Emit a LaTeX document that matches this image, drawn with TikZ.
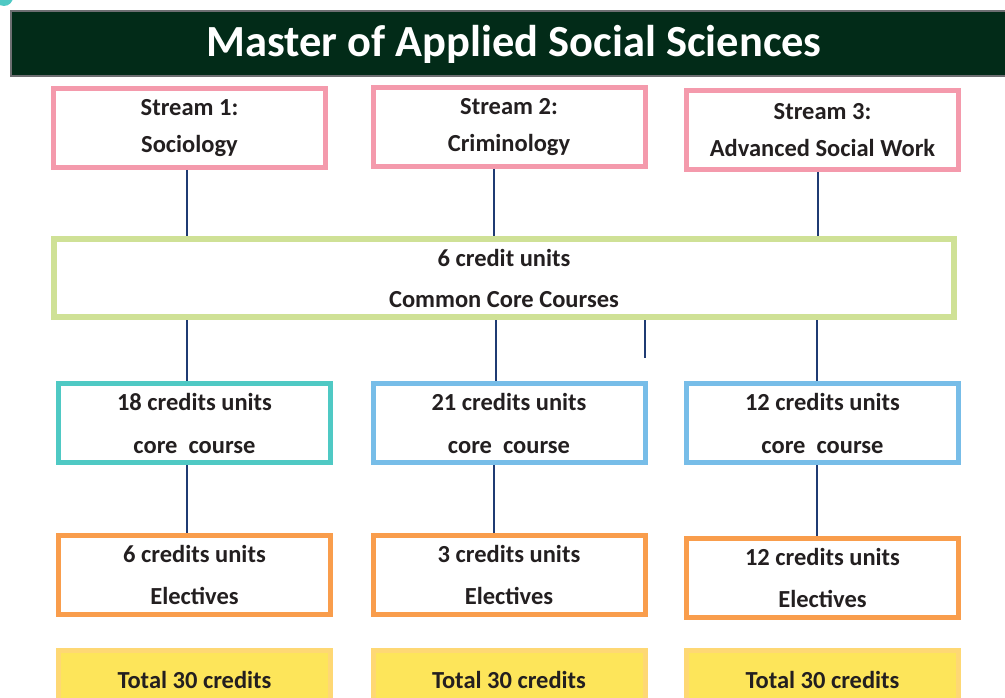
\documentclass[tikz,border=0pt]{standalone}
\usepackage{fontspec}
\setmainfont{Carlito}
\definecolor{titlebg}{HTML}{022B18}
\definecolor{titleedge}{HTML}{6D6E71}
\definecolor{pinkedge}{HTML}{F49AAC}
\definecolor{greenedge}{HTML}{CFE196}
\definecolor{tealedge}{HTML}{4FC9C4}
\definecolor{blueedge}{HTML}{77BDE8}
\definecolor{orangeedge}{HTML}{F99D4C}
\definecolor{yellowfill}{HTML}{FDE55A}
\definecolor{yellowedge}{HTML}{FED874}
\definecolor{navyline}{HTML}{1F3B73}
\definecolor{textgray}{HTML}{231F20}
\tikzset{
  box/.style={draw, line width=5pt, fill=white, minimum width=272pt, minimum height=79pt,
    inner sep=0pt, align=center, text=textgray, font=\bfseries\fontsize{24.5}{29}\selectfont},
  streambox/.style={box, draw=pinkedge},
  commonbox/.style={box, draw=greenedge, line width=6pt, minimum width=900pt, minimum height=78pt},
  corebox/.style={box, draw=blueedge},
  electbox/.style={box, draw=orangeedge},
  totalbox/.style={box, draw=yellowedge, fill=yellowfill, minimum height=60pt},
  link/.style={draw=navyline, line width=2.8pt}
}
\begin{document}
\begin{tikzpicture}[x=1pt, y=-1pt]
  \useasboundingbox (0,0) rectangle (1005,698);
  \clip (0,0) rectangle (1005,698);
  \fill[tealedge] (4,-3) circle (9);
  \node[draw=titleedge, line width=2pt, fill=titlebg, minimum width=1010pt, minimum height=65pt,
    inner sep=0pt, anchor=north west] (title) at (10,10) {};
  \node[text=white, font=\bfseries\fontsize{44.5}{52}\selectfont] (titletext) at (514,44)
    {Master of Applied Social Sciences};
  \draw
    (189.5,128) node[streambox] (s1) {Stream 1:\\[8pt]Sociology}
    (509,127) node[streambox] (s2) {Stream 2:\\[8pt]Criminology}
    (822.5,130.5) node[streambox] (s3) {Stream 3:\\[8pt]Advanced Social Work}
    (504,278) node[commonbox] (cc) {6 credit units\\[12pt]Common Core Courses}
    (194.5,423) node[corebox, draw=tealedge] (k1) {18 credits units\\[14pt]core\ \ course}
    (509,423) node[corebox] (k2) {21 credits units\\[14pt]core\ \ course}
    (822.5,423) node[corebox] (k3) {12 credits units\\[14pt]core\ \ course}
    (194.5,575) node[electbox] (e1) {6 credits units\\[13pt]Electives}
    (509,575) node[electbox] (e2) {3 credits units\\[13pt]Electives}
    (822.5,578) node[electbox] (e3) {12 credits units\\[13pt]Electives}
    (194.5,680) node[totalbox] (t1) {Total 30 credits}
    (509,680) node[totalbox] (t2) {Total 30 credits}
    (822.5,680) node[totalbox] (t3) {Total 30 credits};
  \coordinate (stub) at (645,358);
  \begin{scope}[link]
    \draw ([xshift=-2.5pt]s1.south) -- ([xshift=-2.5pt]s1.south |- cc.north);
    \draw ([xshift=-15pt]s2.south) -- ([xshift=-15pt]s2.south |- cc.north);
    \draw ([xshift=-4.5pt]s3.south) -- ([xshift=-4.5pt]s3.south |- cc.north);
    \draw ([xshift=-7.5pt]k1.north |- cc.south) -- ([xshift=-7.5pt]k1.north);
    \draw ([xshift=-13pt]k2.north |- cc.south) -- ([xshift=-13pt]k2.north);
    \draw (stub |- cc.south) -- (stub);
    \draw ([xshift=-5.5pt]k3.north |- cc.south) -- ([xshift=-5.5pt]k3.north);
    \draw ([xshift=-7.5pt]k1.south) -- ([xshift=-7.5pt]e1.north);
    \draw ([xshift=-15pt]k2.south) -- ([xshift=-15pt]e2.north);
    \draw ([xshift=-5.5pt]k3.south) -- ([xshift=-5.5pt]k3.south |- e3.north);
  \end{scope}
\end{tikzpicture}
\end{document}
